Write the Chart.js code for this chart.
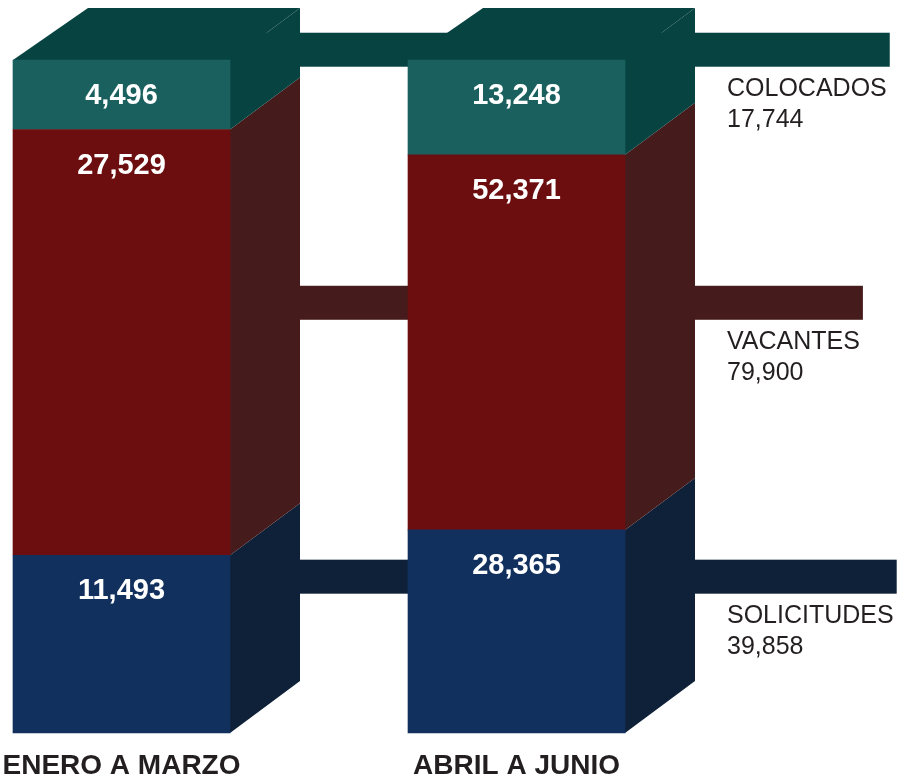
<!DOCTYPE html>
<html lang="es">
<head>
<meta charset="UTF-8">
<title>Solicitudes, vacantes y colocados</title>
<script src="https://cdn.jsdelivr.net/npm/chart.js"></script>
<style>
  html, body { margin:0; padding:0; background:#fff; }
  canvas { display:block; }
</style>
</head>
<body>
<canvas id="c" width="914" height="778"></canvas>
<script>
// datos
const periodos = ['ENERO A MARZO', 'ABRIL A JUNIO'];
const series = ['SOLICITUDES', 'VACANTES', 'COLOCADOS'];
const solicitudes = [11493, 28365];
const vacantes = [27529, 52371];
const colocados = [4496, 13248];

const valores = [solicitudes, vacantes, colocados];
const frente = ['#12305d', '#6c0d0f', '#1a605f'];
const lado = ['#0e2138', '#461b1c', '#064341'];
// nivel (escala 0-100) de la franja que lleva a cada rotulo
const franjas = [15.5, 56.2, 93.8];

const totales = periodos.map((_, i) => valores.reduce((s, v) => s + v[i], 0));
const pct = v => v.map((x, i) => x / totales[i] * 100);
const fmt = n => n.toLocaleString('en-US');

const DX = 70, DY = 52, DX_TOP = 75;
const FONT = '"Liberation Sans", Arial, Helvetica, sans-serif';

const cubos = {
  id: 'cubos',
  beforeDatasetsDraw(chart) {
    const ctx = chart.ctx, y = chart.scales.y;
    const metas = series.map((_, k) => chart.getDatasetMeta(k));
    const last = periodos.length - 1;
    ctx.save();

    // franjas de conexion + rotulos de la derecha
    ctx.font = '25px ' + FONT;
    series.forEach((s, k) => {
      const b0 = metas[k].data[0], bN = metas[k].data[last];
      const suma = valores[k].reduce((a, b) => a + b, 0);
      const lx = bN.x + bN.width / 2 + DX + 32;
      const w = Math.max(ctx.measureText(s).width, ctx.measureText(fmt(suma)).width);
      const yc = y.getPixelForValue(franjas[k]) - DY;
      const x0 = b0.x + b0.width / 2;
      ctx.fillStyle = lado[k];
      ctx.fillRect(x0, yc - 17, lx + w + 3 - x0, 34);
      ctx.fillStyle = '#231f20';
      ctx.textAlign = 'left';
      ctx.textBaseline = 'alphabetic';
      ctx.fillText(s, lx, yc + 17 + 29);
      ctx.fillText(fmt(suma), lx, yc + 17 + 60);
    });

    // caras laterales y superior
    metas.forEach((meta, k) => {
      meta.data.forEach(bar => {
        const r = bar.x + bar.width / 2, l = bar.x - bar.width / 2;
        ctx.fillStyle = lado[k];
        ctx.beginPath();
        ctx.moveTo(r, bar.y);
        ctx.lineTo(r + DX, bar.y - DY);
        ctx.lineTo(r + DX, bar.base - DY);
        ctx.lineTo(r, bar.base);
        ctx.closePath();
        ctx.fill();
        if (k === series.length - 1) {
          ctx.beginPath();
          ctx.moveTo(l, bar.y);
          ctx.lineTo(l + DX_TOP, bar.y - DY);
          ctx.lineTo(r + DX, bar.y - DY);
          ctx.lineTo(r, bar.y);
          ctx.closePath();
          ctx.fill();
        }
      });
    });
    ctx.restore();
  },
  afterDatasetsDraw(chart) {
    const ctx = chart.ctx;
    ctx.save();
    ctx.textAlign = 'center';
    ctx.textBaseline = 'alphabetic';
    ctx.fillStyle = '#fff';
    ctx.font = 'bold 29px ' + FONT;
    series.forEach((s, k) => {
      chart.getDatasetMeta(k).data.forEach((bar, i) => {
        ctx.fillText(fmt(valores[k][i]), bar.x, bar.y + 44);
      });
    });
    ctx.fillStyle = '#231f20';
    ctx.font = 'bold 28px ' + FONT;
    chart.getDatasetMeta(0).data.forEach((bar, i) => {
      ctx.fillText(periodos[i], bar.x, 774);
    });
    ctx.restore();
  }
};

new Chart(document.getElementById('c'), {
  type: 'bar',
  data: {
    labels: periodos,
    datasets: series.map((s, k) => ({
      label: s,
      data: pct(valores[k]),
      backgroundColor: frente[k],
      borderWidth: 0,
      barThickness: 217,
      clip: false
    }))
  },
  options: {
    responsive: false,
    animation: false,
    layout: { padding: { left: 121.5, right: 397.5, top: 60, bottom: 45 } },
    plugins: { legend: { display: false }, tooltip: { enabled: false } },
    scales: {
      x: { type: 'category', offset: false, stacked: true, display: false },
      y: { stacked: true, min: 0, max: 100, display: false }
    }
  },
  plugins: [cubos]
});
</script>
</body>
</html>
